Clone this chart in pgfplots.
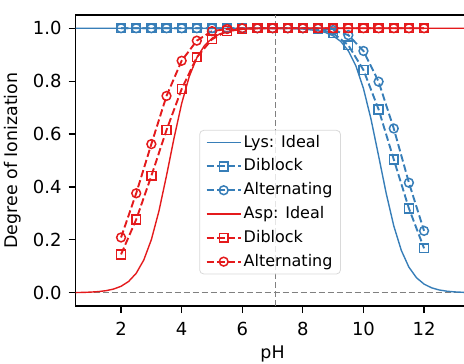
\documentclass[border=0pt]{standalone}
\usepackage{pgfplots}
\pgfplotsset{compat=1.18}
\usepackage{fontspec}
\setmainfont{DejaVu Sans}
\definecolor{cblue}{RGB}{55,126,184}
\definecolor{cred}{RGB}{228,26,28}
\begin{document}
\begin{tikzpicture}
\begin{axis}[
 scale only axis, width=196.95pt, height=145.5pt,
 xmin=0.5, xmax=13.5, ymin=-0.05, ymax=1.05,
 xtick={2,4,6,8,10,12}, ytick={0,0.2,0.4,0.6,0.8,1.0},
 xtick pos=bottom, ytick pos=left, tick align=outside,
 major tick length=3.5pt,
 every tick/.style={black, line width=0.6pt},
 axis line style={line width=0.6pt},
 /pgf/number format/assume math mode=true,
 yticklabel style={/pgf/number format/.cd, fixed, fixed zerofill, precision=1},
 tick label style={font=\fontsize{9}{10.8}\selectfont},
 xticklabel style={yshift=-1pt},
 label style={font=\fontsize{8.7}{10.4}\selectfont},
 xlabel style={yshift=1.8pt},
 ylabel style={yshift=-1pt},
 xlabel={pH}, ylabel={Degree of Ionization},
 legend cell align=left,
 legend style={at={(0.314,0.605)}, anchor=north west, draw=black!15, rounded corners=2pt,
   fill=white, fill opacity=0.8, text opacity=1, font=\fontsize{8}{9.6}\selectfont,
   row sep=2.4pt, inner xsep=3pt, inner ysep=1.4pt,
   nodes={inner sep=1pt, text height=6pt, text depth=1.5pt}},
 dline/.style={dash pattern=on 3.7pt off 1.6pt, line width=0.95pt},
]
\addplot[gray, line width=0.7pt, dash pattern=on 3pt off 1.5pt, forget plot] coordinates {(0.5,0) (13.5,0)};
\addplot[gray, line width=0.7pt, dash pattern=on 3pt off 1.5pt, forget plot] coordinates {(7.1,-0.05) (7.1,1.05)};

% Lys ideal
\addplot[cblue, line width=0.7pt] coordinates {
(0.5,1.0) (6.0,0.99997) (7.0,0.99970) (7.5,0.99907) (8.0,0.99706) (8.5,0.99076) (8.75,0.98367)
(9.0,0.97134) (9.25,0.95014) (9.5,0.91463) (9.75,0.85766) (10.0,0.77213) (10.25,0.65582)
(10.5,0.51727) (10.75,0.37600) (11.0,0.25309) (11.25,0.16005) (11.5,0.09678) (11.75,0.05683)
(12.0,0.03277) (12.25,0.01870) (12.5,0.01060) (12.75,0.00599) (13.0,0.00338) (13.25,0.00190) (13.5,0.00107)};
\addlegendentry{Lys: Ideal}
% Lys diblock
\addplot[cblue, dline, mark=square, mark size=2.2pt, mark options={solid, line width=0.75pt}] coordinates {
(2,1) (2.5,1) (3,1) (3.5,1) (4,1) (4.5,1) (5,1) (5.5,1) (6,1) (6.5,1) (7,1) (7.5,1) (8,1)
(8.5,0.997) (9,0.981) (9.5,0.936) (10,0.842) (10.5,0.693) (11,0.504) (11.5,0.319) (12,0.168)};
\addlegendentry{Diblock}
% Lys alternating
\addplot[cblue, dline, mark=o, mark size=2.2pt, mark options={solid, line width=0.75pt}] coordinates {
(2,1) (2.5,1) (3,1) (3.5,1) (4,1) (4.5,1) (5,1) (5.5,1) (6,1) (6.5,1) (7,1) (7.5,1) (8,1)
(8.5,0.999) (9,0.993) (9.5,0.974) (10,0.914) (10.5,0.798) (11,0.621) (11.5,0.416) (12,0.234)};
\addlegendentry{Alternating}
% Asp ideal
\addplot[cred, line width=0.7pt] coordinates {
(0.5,0.000794) (0.75,0.00141) (1.0,0.00251) (1.25,0.00445) (1.5,0.00788) (1.75,0.01393)
(2.0,0.0245) (2.25,0.0428) (2.5,0.0736) (2.75,0.1238) (3.0,0.2008) (3.25,0.3087) (3.5,0.4427)
(3.75,0.5855) (4.0,0.7153) (4.25,0.8171) (4.5,0.8882) (4.75,0.9339) (5.0,0.9617) (5.25,0.9781)
(5.5,0.9876) (6.0,0.99603) (6.5,0.99874) (7.0,0.99960) (8.0,0.99996) (13.5,1.0)};
\addlegendentry{Asp: Ideal}
% Asp diblock
\addplot[cred, dline, mark=square, mark size=2.2pt, mark options={solid, line width=0.75pt}] coordinates {
(2,0.145) (2.5,0.277) (3,0.442) (3.5,0.615) (4,0.770) (4.5,0.890) (5,0.958) (5.5,0.990)
(6,0.997) (6.5,1) (7,1) (7.5,1) (8,1) (8.5,1) (9,1) (9.5,1) (10,1) (10.5,1) (11,1) (11.5,1) (12,1)};
\addlegendentry{Diblock}
% Asp alternating
\addplot[cred, dline, mark=o, mark size=2.2pt, mark options={solid, line width=0.75pt}] coordinates {
(2,0.209) (2.5,0.376) (3,0.562) (3.5,0.744) (4,0.877) (4.5,0.953) (5,0.989) (5.5,0.997)
(6,1) (6.5,1) (7,1) (7.5,1) (8,1) (8.5,1) (9,1) (9.5,1) (10,1) (10.5,1) (11,1) (11.5,1) (12,1)};
\addlegendentry{Alternating}
\end{axis}
\pgfresetboundingbox
\path[use as bounding box] (-37.8pt,-28.5pt) rectangle (194.2pt,153pt);
\end{tikzpicture}
\end{document}
